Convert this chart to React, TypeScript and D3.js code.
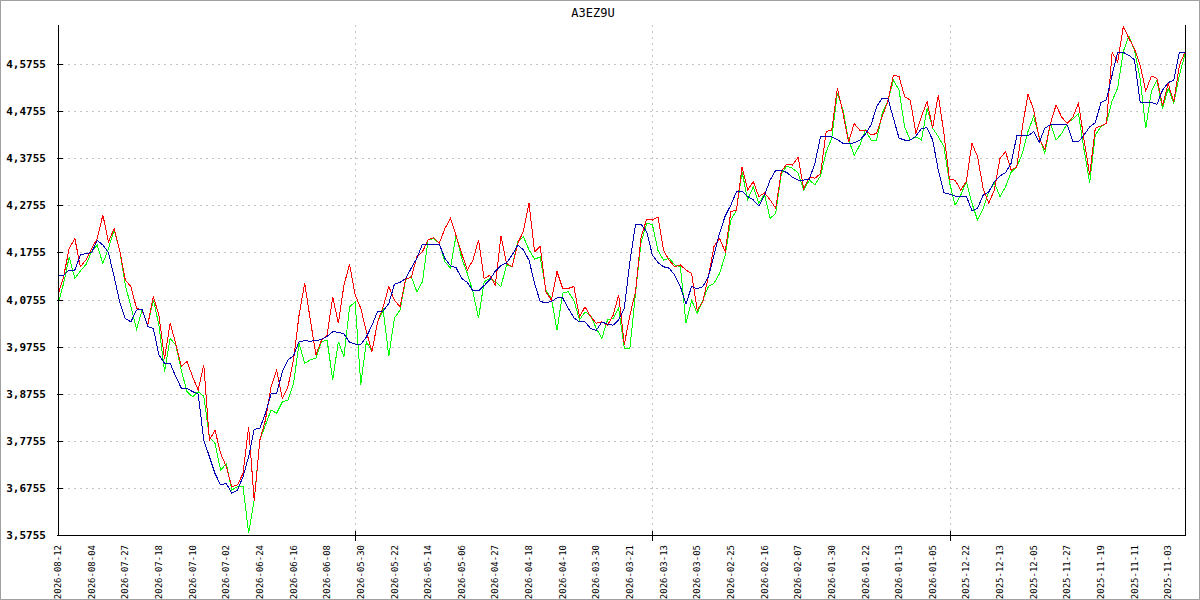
import * as React from 'react';
import * as d3 from 'd3';

// values, left (2026-08-12) to right (2025-11-03)
const redSeries = [
  4.085, 4.124, 4.184, 4.205, 4.145, 4.160, 4.184, 4.205, 4.255, 4.198,
  4.226, 4.180, 4.117, 4.103, 4.057, 4.053, 4.021, 4.082, 4.042, 3.950,
  4.025, 3.982, 3.933, 3.944, 3.912, 3.883, 3.937, 3.777, 3.798, 3.749,
  3.721, 3.678, 3.682, 3.706, 3.805, 3.648, 3.777, 3.820, 3.890, 3.926,
  3.866, 3.890, 3.947, 4.043, 4.110, 4.032, 3.958, 3.989, 4.000, 4.081,
  4.025, 4.106, 4.150, 4.085, 4.057, 4.007, 3.965, 4.028, 4.060, 4.103,
  4.074, 4.060, 4.120, 4.122, 4.166, 4.177, 4.202, 4.207, 4.195, 4.226,
  4.248, 4.211, 4.173, 4.138, 4.159, 4.202, 4.120, 4.127, 4.106, 4.210,
  4.152, 4.145, 4.195, 4.220, 4.280, 4.177, 4.188, 4.092, 4.074, 4.135,
  4.099, 4.099, 4.103, 4.039, 4.060, 4.039, 4.025, 4.028, 4.021, 4.042,
  4.085, 3.980, 4.042, 4.092, 4.209, 4.246, 4.244, 4.251, 4.180, 4.159,
  4.145, 4.149, 4.138, 4.131, 4.053, 4.071, 4.124, 4.188, 4.205, 4.177,
  4.262, 4.265, 4.357, 4.308, 4.326, 4.294, 4.302, 4.287, 4.269, 4.347,
  4.363, 4.361, 4.377, 4.311, 4.335, 4.333, 4.343, 4.432, 4.435, 4.524,
  4.471, 4.410, 4.449, 4.435, 4.435, 4.425, 4.428, 4.464, 4.496, 4.552,
  4.549, 4.506, 4.499, 4.428, 4.464, 4.496, 4.439, 4.510, 4.428, 4.330,
  4.329, 4.308, 4.326, 4.407, 4.379, 4.311, 4.280, 4.308, 4.375, 4.389,
  4.350, 4.357, 4.442, 4.512, 4.478, 4.418, 4.393, 4.449, 4.488, 4.463,
  4.449, 4.463, 4.492, 4.414, 4.340, 4.439, 4.444, 4.450, 4.600, 4.580,
  4.655, 4.630, 4.607, 4.573, 4.518, 4.550, 4.545, 4.487, 4.534, 4.495,
  4.573, 4.601
];

const greenSeries = [
  4.064, 4.110, 4.166, 4.120, 4.136, 4.150, 4.177, 4.191, 4.152, 4.184,
  4.223, 4.180, 4.106, 4.061, 4.012, 4.053, 4.021, 4.075, 4.021, 3.922,
  3.993, 3.979, 3.925, 3.880, 3.869, 3.880, 3.870, 3.784, 3.770, 3.713,
  3.727, 3.671, 3.678, 3.678, 3.580, 3.650, 3.777, 3.809, 3.841, 3.834,
  3.858, 3.862, 3.897, 3.982, 3.940, 3.947, 3.951, 3.986, 3.989, 3.905,
  3.986, 3.954, 4.060, 4.070, 3.895, 3.986, 3.965, 4.028, 4.053, 3.955,
  4.036, 4.053, 4.117, 4.124, 4.092, 4.113, 4.202, 4.205, 4.195, 4.156,
  4.142, 4.212, 4.163, 4.131, 4.092, 4.036, 4.113, 4.120, 4.113, 4.103,
  4.149, 4.145, 4.198, 4.209, 4.181, 4.161, 4.166, 4.096, 4.078, 4.010,
  4.089, 4.092, 4.074, 4.032, 4.049, 4.042, 4.014, 3.993, 4.032, 4.035,
  4.057, 3.972, 3.972, 4.089, 4.198, 4.237, 4.235, 4.180, 4.159, 4.163,
  4.149, 4.145, 4.025, 4.074, 4.046, 4.074, 4.103, 4.110, 4.131, 4.170,
  4.244, 4.265, 4.347, 4.287, 4.315, 4.280, 4.299, 4.248, 4.258, 4.343,
  4.359, 4.354, 4.344, 4.308, 4.329, 4.319, 4.338, 4.389, 4.418, 4.513,
  4.478, 4.414, 4.382, 4.403, 4.435, 4.414, 4.414, 4.471, 4.496, 4.541,
  4.520, 4.442, 4.414, 4.421, 4.414, 4.481, 4.439, 4.421, 4.400, 4.324,
  4.276, 4.297, 4.326, 4.280, 4.244, 4.269, 4.304, 4.323, 4.294, 4.315,
  4.346, 4.357, 4.386, 4.432, 4.464, 4.421, 4.386, 4.449, 4.414, 4.428,
  4.449, 4.459, 4.470, 4.393, 4.324, 4.425, 4.442, 4.450, 4.497, 4.525,
  4.602, 4.635, 4.604, 4.545, 4.439, 4.517, 4.541, 4.481, 4.524, 4.492,
  4.552, 4.596
];

const blueSeries = [
  4.127, 4.127, 4.138, 4.138, 4.170, 4.173, 4.175, 4.201, 4.191, 4.175,
  4.124, 4.071, 4.035, 4.028, 4.053, 4.055, 4.018, 4.014, 3.958, 3.940,
  3.940, 3.912, 3.887, 3.887, 3.880, 3.875, 3.777, 3.742, 3.706, 3.682,
  3.685, 3.664, 3.671, 3.699, 3.742, 3.800, 3.802, 3.834, 3.875, 3.876,
  3.922, 3.947, 3.956, 3.986, 3.988, 3.987, 3.988, 3.991, 3.997, 4.007,
  4.006, 4.002, 3.985, 3.981, 3.980, 3.996, 4.021, 4.050, 4.051, 4.067,
  4.108, 4.112, 4.120, 4.142, 4.163, 4.193, 4.193, 4.193, 4.193, 4.163,
  4.147, 4.143, 4.120, 4.112, 4.094, 4.094, 4.105, 4.117, 4.136, 4.148,
  4.153, 4.170, 4.191, 4.181, 4.159, 4.110, 4.071, 4.069, 4.071, 4.079,
  4.079, 4.057, 4.037, 4.028, 4.028, 4.014, 4.010, 4.028, 4.023, 4.021,
  4.032, 4.057, 4.156, 4.235, 4.235, 4.219, 4.170, 4.154, 4.145, 4.142,
  4.127, 4.103, 4.066, 4.103, 4.098, 4.103, 4.124, 4.170, 4.217, 4.253,
  4.276, 4.304, 4.306, 4.294, 4.287, 4.274, 4.297, 4.329, 4.350, 4.350,
  4.345, 4.335, 4.329, 4.329, 4.331, 4.365, 4.421, 4.421, 4.421, 4.415,
  4.407, 4.407, 4.408, 4.414, 4.427, 4.446, 4.485, 4.503, 4.503, 4.460,
  4.418, 4.414, 4.414, 4.422, 4.439, 4.440, 4.414, 4.350, 4.302, 4.299,
  4.295, 4.295, 4.295, 4.264, 4.269, 4.297, 4.304, 4.326, 4.338, 4.345,
  4.365, 4.423, 4.423, 4.423, 4.432, 4.409, 4.439, 4.447, 4.447, 4.447,
  4.446, 4.410, 4.410, 4.425, 4.442, 4.451, 4.493, 4.500, 4.552, 4.600,
  4.600, 4.594, 4.584, 4.494, 4.494, 4.494, 4.490, 4.520, 4.536, 4.541,
  4.600, 4.600
];

const dateLabels = [
  '2026-08-12', '2026-08-04', '2026-07-27', '2026-07-18', '2026-07-10',
  '2026-07-02', '2026-06-24', '2026-06-16', '2026-06-08', '2026-05-30',
  '2026-05-22', '2026-05-14', '2026-05-06', '2026-04-27', '2026-04-18',
  '2026-04-10', '2026-03-30', '2026-03-21', '2026-03-13', '2026-03-05',
  '2026-02-25', '2026-02-16', '2026-02-07', '2026-01-30', '2026-01-22',
  '2026-01-13', '2026-01-05', '2025-12-22', '2025-12-13', '2025-12-05',
  '2025-11-27', '2025-11-19', '2025-11-11', '2025-11-03'
];

const yTicks = [3.5755, 3.6755, 3.7755, 3.8755, 3.9755, 4.0755, 4.1755, 4.2755, 4.3755, 4.4755, 4.5755];
const majorTickIndex = [53, 106, 159];
const labelEvery = 6;
const title = 'A3EZ9U';

const W = 1200;
const H = 600;
const left = 58;
const right = 1185;
const top = 25;
const bottom = 535;

const App = () => {
  const n = redSeries.length;
  const x = d3.scaleLinear().domain([0, n - 1]).range([left, right]);
  const y = d3.scaleLinear().domain([3.5755, 3.5755 + (bottom - top) / 471]).range([bottom, top]);

  const line = d3.line<number>()
    .x((d, i) => x(i))
    .y(d => y(d));

  const fmt = (v: number) => d3.format('.4f')(v).replace('.', ',');
  const mono = '"DejaVu Sans Mono", monospace';

  return <svg width={W} height={H} style={{ position: 'absolute', left: 0, top: 0, background: '#fff' }}>
    <rect x={0.5} y={0.5} width={W - 1} height={H - 1} fill="#fff" stroke="#a0a0a0" />

    <text x={593} y={17} textAnchor="middle" fontFamily={mono} fontSize={12} fill="#000">{title}</text>

    {yTicks.slice(1).map(t => <line key={'g' + t} x1={left + 4} x2={right} y1={Math.round(y(t)) + 0.5} y2={Math.round(y(t)) + 0.5}
      stroke="#c4c4c4" strokeDasharray="2,4" />)}
    {majorTickIndex.map(i => <line key={'v' + i} x1={Math.round(x(i)) + 0.5} x2={Math.round(x(i)) + 0.5} y1={top} y2={bottom}
      stroke="#c4c4c4" strokeDasharray="2,4" />)}

    <g fill="none" strokeWidth={1} shapeRendering="crispEdges">
      <path d={line(greenSeries) || ''} stroke="#00ff00" />
      <path d={line(redSeries) || ''} stroke="#ff0000" />
      <path d={line(blueSeries) || ''} stroke="#0000b0" />
    </g>

    <line x1={left + 0.5} x2={left + 0.5} y1={top} y2={bottom} stroke="#000" />
    <line x1={right + 0.5} x2={right + 0.5} y1={top} y2={bottom} stroke="#000" />
    <line x1={left} x2={right + 1} y1={bottom + 0.5} y2={bottom + 0.5} stroke="#000" />

    {yTicks.map(t => <g key={'t' + t}>
      <line x1={left - 1} x2={left + 5} y1={Math.round(y(t)) + 0.5} y2={Math.round(y(t)) + 0.5} stroke="#000" />
      <text x={46} y={y(t) + 4} textAnchor="end" fontFamily={mono} fontWeight="bold" fontSize={11} fill="#000">{fmt(t)}</text>
    </g>)}

    {majorTickIndex.map(i => <line key={'m' + i} x1={Math.round(x(i)) + 0.5} x2={Math.round(x(i)) + 0.5} y1={bottom - 4} y2={bottom + 6} stroke="#000" />)}

    {dateLabels.map((lab, k) => {
      const px = x(k * labelEvery);
      return <text key={lab} transform={`translate(${px},545) rotate(-90)`} textAnchor="end" dy="0.35em"
        fontFamily={mono} fontSize={9} fill="#000">{lab}</text>;
    })}
  </svg>;
};

export default App;
